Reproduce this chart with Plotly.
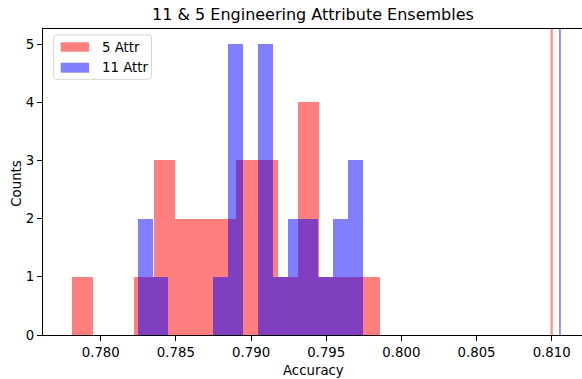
import plotly.graph_objects as go

# ---- data ----
series_names = ["5 Attr", "11 Attr"]
red_bin_start = 0.77809
red_bin_width = 0.001367
red_counts = [1, 0, 0, 1, 3, 2, 2, 2, 3, 3, 1, 4, 1, 1, 1]
blue_bin_start = 0.78248
blue_bin_width = 0.000999
blue_counts = [2, 1, 0, 0, 0, 1, 5, 0, 5, 1, 2, 2, 1, 2, 3]
full_acc_5 = 0.8100
full_acc_11 = 0.81055
x_ticks = [0.780, 0.785, 0.790, 0.795, 0.800, 0.805, 0.810]
y_ticks = [0, 1, 2, 3, 4, 5]

W, H = 582, 379
L, R, T, B = 43.3, 0, 29, 44
pw = W - L - R
ph = H - T - B

def px_x(p):
    return (p - L) / pw

def px_y(p):
    return (H - B - p) / ph

RED = "rgba(255,0,0,0.5)"
BLUE = "rgba(0,0,255,0.5)"
FONT = "DejaVu Sans"

fig = go.Figure()
for counts, start, width, color, name in [
    (red_counts, red_bin_start, red_bin_width, RED, series_names[0]),
    (blue_counts, blue_bin_start, blue_bin_width, BLUE, series_names[1]),
]:
    xs = [start + (i + 0.5) * width for i in range(len(counts))]
    fig.add_trace(go.Bar(x=xs, y=counts, width=width, name=name,
                         marker=dict(color=color, line=dict(width=0)),
                         showlegend=False))

fig.add_shape(type="line", xref="x", yref="paper", x0=full_acc_5, x1=full_acc_5,
              y0=0, y1=1, line=dict(color="rgba(255,0,0,0.45)", width=2.2))
fig.add_shape(type="line", xref="x", yref="paper", x0=full_acc_11, x1=full_acc_11,
              y0=0, y1=1, line=dict(color="rgba(0,0,255,0.5)", width=1.7))

# legend (drawn manually to match patch shapes)
bx0, bx1 = px_x(54), px_x(151.7)
by0, by1 = px_y(79.3), px_y(35)
rx, ry = 3 / pw, 3 / ph
path = (f"M {bx0+rx},{by1} L {bx1-rx},{by1} Q {bx1},{by1} {bx1},{by1-ry} "
        f"L {bx1},{by0+ry} Q {bx1},{by0} {bx1-rx},{by0} L {bx0+rx},{by0} "
        f"Q {bx0},{by0} {bx0},{by0+ry} L {bx0},{by1-ry} Q {bx0},{by1} {bx0+rx},{by1} Z")
fig.add_shape(type="path", xref="paper", yref="paper", path=path,
              fillcolor="rgba(255,255,255,0.8)", line=dict(color="#d6d6d6", width=1))
for (ytop, ybot, color, name) in [(42.3, 51.7, RED, series_names[0]),
                                  (62.7, 72.7, BLUE, series_names[1])]:
    fig.add_shape(type="rect", xref="paper", yref="paper",
                  x0=px_x(61), x1=px_x(89.3), y0=px_y(ybot), y1=px_y(ytop),
                  fillcolor=color, line=dict(width=0))
    fig.add_annotation(xref="paper", yref="paper", x=px_x(100.5), y=px_y((ytop + ybot) / 2),
                       text=name, showarrow=False, xanchor="left", yanchor="middle",
                       font=dict(family=FONT, size=13.3, color="black"))

fig.add_annotation(xref="paper", yref="paper", x=px_x(313.5), y=px_y(14.5),
                   text="11 &amp; 5 Engineering Attribute Ensembles", showarrow=False,
                   xanchor="center", yanchor="middle",
                   font=dict(family=FONT, size=16, color="black"))
fig.add_annotation(xref="paper", yref="paper", x=px_x(313.5), y=px_y(370),
                   text="Accuracy", showarrow=False, xanchor="center", yanchor="middle",
                   font=dict(family=FONT, size=13.3, color="black"))
fig.add_annotation(xref="paper", yref="paper", x=px_x(16), y=px_y(184),
                   text="Counts", showarrow=False, xanchor="center", yanchor="middle",
                   textangle=-90, font=dict(family=FONT, size=13.3, color="black"))

fig.update_layout(
    width=W, height=H, margin=dict(l=L, r=R, t=T, b=B, pad=0),
    paper_bgcolor="white", plot_bgcolor="white", barmode="overlay", bargap=0,
    showlegend=False, template="none",
    font=dict(family=FONT, size=13.3, color="black"),
)
fig.update_xaxes(range=[0.776158, 0.812017], tickvals=x_ticks,
                 ticktext=[f"{v:.3f}" for v in x_ticks],
                 showgrid=False, zeroline=False, showline=True, linecolor="black",
                 linewidth=1, mirror=True, ticks="outside", ticklen=5, tickwidth=1,
                 tickcolor="black", tickfont=dict(family=FONT, size=13.3, color="black"))
fig.update_yaxes(range=[0, 5.258], tickvals=y_ticks,
                 showgrid=False, zeroline=False, showline=True, linecolor="black",
                 linewidth=1, mirror=False, ticks="outside", ticklen=5, tickwidth=1,
                 tickcolor="black", tickfont=dict(family=FONT, size=13.3, color="black"))

fig.write_html("out.html")
